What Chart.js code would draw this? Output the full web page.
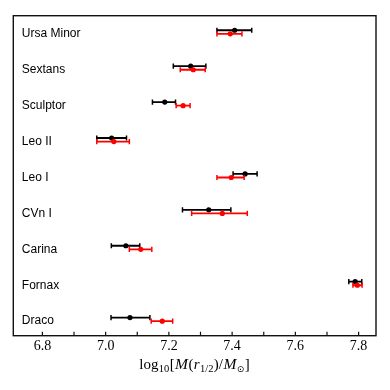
<!DOCTYPE html>
<html><head><meta charset="utf-8">
<script src="https://cdn.jsdelivr.net/npm/chart.js@4"></script>
<style>html,body{margin:0;padding:0;background:#fff}</style></head>
<body><canvas id="c" width="390" height="390"></canvas>
<script>
// Categories, bottom (y = 0) to top
const categories = ['Draco','Fornax','Carina','CVn I','Leo I','Leo II','Sculptor','Sextans','Ursa Minor'];
// Black series: log10 mass, lower and upper error-bar ends
const blackMass = [7.077, 7.789, 7.064, 7.326, 7.441, 7.019, 7.187, 7.269, 7.408];
const blackLow  = [7.017, 7.769, 7.018, 7.243, 7.403, 6.972, 7.148, 7.214, 7.352];
const blackHigh = [7.140, 7.810, 7.108, 7.396, 7.479, 7.066, 7.221, 7.317, 7.462];
// Red series
const redMass = [7.179, 7.796, 7.111, 7.369, 7.397, 7.026, 7.245, 7.277, 7.394];
const redLow  = [7.144, 7.782, 7.075, 7.272, 7.352, 6.972, 7.223, 7.236, 7.352];
const redHigh = [7.212, 7.811, 7.146, 7.448, 7.438, 7.075, 7.267, 7.315, 7.431];
// X axis ticks
const xTickValues = [6.8, 6.9, 7.0, 7.1, 7.2, 7.3, 7.4, 7.5, 7.6, 7.7, 7.8];
const xTickLabels = ['6.8', '', '7.0', '', '7.2', '', '7.4', '', '7.6', '', '7.8'];

const BLACK_OFFSET = 0.1;
const datasets = [];
function addSeries(mass, lo, hi, color, off, baseOrder) {
  categories.forEach((c, i) => {
    datasets.push({
      type: 'scatter',
      data: [{x: lo[i], y: i + off}, {x: hi[i], y: i + off}],
      showLine: true, borderColor: color, borderWidth: 1.8,
      pointStyle: 'line', pointRotation: 90, pointRadius: 2.6, pointHoverRadius: 2.6,
      pointBorderColor: color, pointBorderWidth: 1.5, order: baseOrder + 1
    });
  });
  datasets.push({
    type: 'scatter',
    data: mass.map((m, i) => ({x: m, y: i + off})),
    pointStyle: 'circle', pointRadius: 2.6, pointHoverRadius: 2.6,
    backgroundColor: color, borderColor: color, borderWidth: 0, order: baseOrder
  });
}
addSeries(blackMass, blackLow, blackHigh, '#000000', BLACK_OFFSET, 2);
addSeries(redMass, redLow, redHigh, '#ff0000', 0, 0);

const framePlugin = {
  id: 'frame',
  afterDraw(chart) {
    const ctx = chart.ctx, ca = chart.chartArea, xs = chart.scales.x;
    ctx.save();
    ctx.strokeStyle = '#111';
    ctx.lineWidth = 1.2;
    xs.ticks.forEach(t => {
      const px = xs.getPixelForValue(t.value);
      ctx.beginPath(); ctx.moveTo(px, ca.bottom); ctx.lineTo(px, ca.bottom - 4); ctx.stroke();
    });
    ctx.lineWidth = 1.4;
    ctx.strokeRect(ca.left, ca.top, ca.right - ca.left, ca.bottom - ca.top);
    // axis title with sub-scripts
    const parts = [
      {t: 'log', f: '15px "Liberation Serif"', dy: 0},
      {t: '10', f: '10.5px "Liberation Serif"', dy: 3},
      {t: '[', f: '15px "Liberation Serif"', dy: 0},
      {t: 'M', f: 'italic 15.5px "Liberation Serif"', dy: 0},
      {t: '(', f: '15px "Liberation Serif"', dy: 0},
      {t: 'r', f: 'italic 15px "Liberation Serif"', dy: 0},
      {t: '1/2', f: '10.5px "Liberation Serif"', dy: 3},
      {t: ')/', f: '15px "Liberation Serif"', dy: 0},
      {t: 'M', f: 'italic 15.5px "Liberation Serif"', dy: 0},
      {t: '⊙', f: '9px "DejaVu Sans"', dy: 3},
      {t: ']', f: '15px "Liberation Serif"', dy: 0}
    ];
    let total = 0;
    parts.forEach(p => { ctx.font = p.f; p.w = ctx.measureText(p.t).width + 0.4; total += p.w; });
    let x = (ca.left + ca.right) / 2 - total / 2;
    const base = 369.3;
    ctx.fillStyle = '#000';
    ctx.textBaseline = 'alphabetic';
    ctx.textAlign = 'left';
    parts.forEach(p => { ctx.font = p.f; ctx.fillText(p.t, x, base + p.dy); x += p.w; });
    ctx.restore();
  }
};

new Chart(document.getElementById('c'), {
  type: 'scatter',
  data: {datasets},
  options: {
    responsive: false, animation: false, devicePixelRatio: 1,
    layout: {padding: {left: 13.3, right: 14, top: 13.3, bottom: 0}},
    plugins: {legend: {display: false}, tooltip: {enabled: false}},
    scales: {
      x: {
        type: 'linear', min: 6.708, max: 7.855,
        afterBuildTicks: s => { s.ticks = xTickValues.map(v => ({value: v})); },
        afterFit: s => { s.height = 54.3; },
        ticks: {
          autoSkip: false, maxRotation: 0, padding: 2, color: '#000',
          font: {family: 'Liberation Serif', size: 14},
          callback: (v, i) => xTickLabels[i]
        },
        grid: {display: false, drawTicks: false},
        border: {display: false}
      },
      y: {
        type: 'linear', min: -0.405, max: 8.505,
        afterBuildTicks: s => { s.ticks = categories.map((c, i) => ({value: i})); },
        afterFit: s => { s.width = 0; },
        ticks: {
          mirror: true, padding: 8.5, color: '#000', autoSkip: false,
          font: {family: 'Liberation Sans', size: 12},
          callback: (v, i) => categories[i]
        },
        grid: {display: false, drawTicks: false},
        border: {display: false}
      }
    }
  },
  plugins: [framePlugin]
});
</script>
</body></html>
